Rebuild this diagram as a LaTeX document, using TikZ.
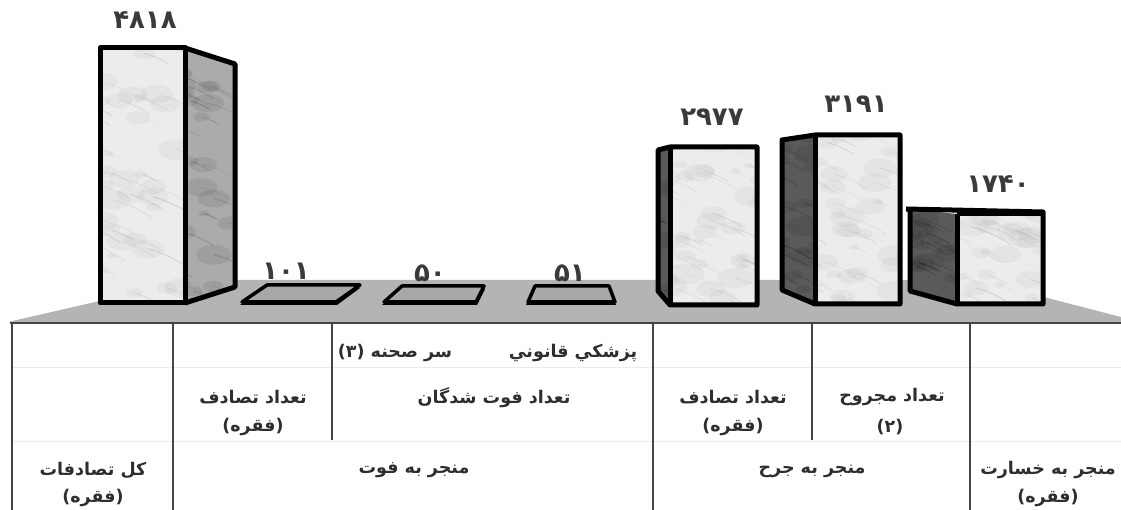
\documentclass[tikz,border=0pt]{standalone}
\usepackage{fontspec}
\TeXXeTstate=1
\newfontfamily\arabicfont[Script=Arabic]{DejaVu Sans}
\definecolor{floorgray}{HTML}{B4B4B4}
\definecolor{txt}{HTML}{2E2E2E}
\definecolor{numc}{HTML}{3A3A3A}
\definecolor{rulec}{HTML}{454545}
\definecolor{frontc}{HTML}{ECECEC}
\definecolor{sidelight}{HTML}{ABABAB}
\definecolor{sidedark}{HTML}{5A5A5A}
\definecolor{platec}{HTML}{A8A8A8}
\newcommand\veins[6]{%
  \foreach \k in {1,...,#6}{%
    \pgfmathsetmacro\xa{#1+rnd*(#3-#1)}%
    \pgfmathsetmacro\ya{#2+rnd*(#4-#2)}%
    \pgfmathsetmacro\ln{12+rnd*30}%
    \pgfmathsetmacro\lw{0.3+rnd*0.9}%
    \pgfmathsetmacro\op{0.06+rnd*0.18}%
    \draw[#5,line width=\lw pt,opacity=\op,line cap=round] (\xa,\ya) .. controls +(0.35*\ln,0.1*\ln) and +(-0.3*\ln,-0.2*\ln) .. +(\ln,0.45*\ln);
    \fill[#5,opacity=0.07] (\xa,\ya) ellipse ({0.45*\ln} and {0.25*\ln});
  }}
\begin{document}
\begin{tikzpicture}[x=1pt,y=-1pt,
  barline/.style={line width=5pt, line join=round},
  platestyle/.style={fill=platec, draw=black, line width=3.5pt, line join=round},
  lbl/.style={font=\arabicfont\bfseries\fontsize{17.5}{19}\selectfont, text=txt, inner sep=0pt},
  num/.style={font=\arabicfont\bfseries\fontsize{26}{28}\selectfont, text=numc, inner sep=0pt},
  tline/.style={rulec, line width=2.6pt},
  fline/.style={black!8, line width=0.8pt}]
\useasboundingbox (0,0) rectangle (1121,510);
\pgfmathsetseed{11}
% floor
\fill[floorgray] (8,322) -- (191,280) -- (978,280) -- (1121,317) -- (1121,322) -- cycle;

% table
\draw[fline] (12,367) -- (1121,367);
\draw[fline] (12,441) -- (1121,441);
\draw[tline] (10,323) -- (1121,323);
\draw[tline] (12,323) -- (12,510);
\draw[tline] (173,323) -- (173,510);
\draw[tline] (332,323) -- (332,440);
\draw[tline] (653,323) -- (653,510);
\draw[tline] (812,323) -- (812,440);
\draw[tline] (970,323) -- (970,510);

% big bar 4818
\fill[sidelight] (185,48) -- (235,64) -- (235,287) -- (185,303) -- cycle;
\begin{scope}\clip (185,48) -- (235,64) -- (235,287) -- (185,303) -- cycle;
  \veins{170}{40}{235}{300}{black}{25}\end{scope}
\fill[frontc] (100,48) rectangle (185,303);
\begin{scope}\clip (100,48) rectangle (185,303);
  \veins{80}{40}{185}{300}{gray}{40}\end{scope}
\draw[barline] (100,48) rectangle (185,303);
\draw[barline] (185,48) -- (235,64) -- (235,287) -- (185,303);

% plates
\fill[black] (240,305) -- (265,288) -- (360,288) -- (337,305) -- cycle;
\path[platestyle] (242,302) -- (267,285) -- (360,285) -- (336,302) -- cycle;
\fill[black] (382,305) -- (401,289) -- (485,289) -- (477,305) -- cycle;
\path[platestyle] (384,302) -- (402,286) -- (484,286) -- (476,302) -- cycle;
\fill[black] (526,305) -- (534,289) -- (610,289) -- (616,305) -- cycle;
\path[platestyle] (528,302) -- (535,286) -- (609,286) -- (615,302) -- cycle;

% bar 2977
\fill[sidedark] (658,150) -- (670,147) -- (670,305) -- (658,291) -- cycle;
\begin{scope}\clip (658,150) -- (670,147) -- (670,305) -- (658,291) -- cycle;
  \veins{640}{140}{672}{300}{black}{10}\end{scope}
\fill[frontc] (670,147) rectangle (757,305);
\begin{scope}\clip (670,147) rectangle (757,305);
  \veins{650}{140}{757}{300}{gray}{35}\end{scope}
\draw[barline] (658,150) -- (670,147) -- (757,147) -- (757,305) -- (670,305) -- (658,291) -- cycle;
\draw[barline] (670,147) -- (670,305);

% bar 3191
\fill[sidedark] (782,140) -- (815,135) -- (815,304) -- (782,290) -- cycle;
\begin{scope}\clip (782,140) -- (815,135) -- (815,304) -- (782,290) -- cycle;
  \veins{765}{130}{815}{300}{black}{20}\end{scope}
\fill[frontc] (815,135) rectangle (900,304);
\begin{scope}\clip (815,135) rectangle (900,304);
  \veins{795}{130}{900}{300}{gray}{35}\end{scope}
\draw[barline] (782,140) -- (815,135) -- (900,135) -- (900,304) -- (815,304) -- (782,290) -- cycle;
\draw[barline] (815,135) -- (815,304);

% bar 1740
\fill[sidedark] (910,209) -- (957,214) -- (957,304) -- (910,291) -- cycle;
\begin{scope}\clip (910,209) -- (957,214) -- (957,304) -- (910,291) -- cycle;
  \veins{895}{205}{957}{300}{black}{18}\end{scope}
\fill[frontc] (957,214) rectangle (1043,304);
\begin{scope}\clip (957,214) rectangle (1043,304);
  \veins{940}{205}{1043}{300}{gray}{25}\end{scope}
\draw[barline] (906,209) -- (1043,212) -- (1043,304) -- (957,304) -- (910,291) -- (910,209);
\draw[barline] (957,214) -- (957,304);
\draw[barline] (957,214) -- (1043,214);

% value labels
\node[num] (v4818) at (145,20) {۴۸۱۸};
\node[num] (v101) at (286,271) {۱۰۱};
\node[num] (v50) at (430,273) {۵۰};
\node[num] (v51) at (570,273) {۵۱};
\node[num] (v2977) at (712,117) {۲۹۷۷};
\node[num] (v3191) at (856,104) {۳۱۹۱};
\node[num] (v1740) at (998,184) {۱۷۴۰};

% table labels
\node[lbl] (c1a) at (93,470) {\beginR كل تصادفات\endR};
\node[lbl] (c1b) at (93,498) {(فقره)};
\node[lbl] (c2a) at (253,397) {\beginR تعداد تصادف\endR};
\node[lbl] (c2b) at (253,427) {(فقره)};
\node[lbl] (c3a) at (395,353) {(۳) \beginR سر صحنه\endR};
\node[lbl] (c3b) at (573,353) {\beginR پزشكي قانوني\endR};
\node[lbl] (c3c) at (494,398) {\beginR تعداد فوت شدگان\endR};
\node[lbl] (c4) at (414,470) {\beginR منجر به فوت\endR};
\node[lbl] (c5a) at (733,397) {\beginR تعداد تصادف\endR};
\node[lbl] (c5b) at (733,427) {(فقره)};
\node[lbl] (c6a) at (892,397) {\beginR تعداد مجروح\endR};
\node[lbl] (c6b) at (890,427) {(۲)};
\node[lbl] (c7) at (812,471) {\beginR منجر به جرح\endR};
\node[lbl] (c8a) at (1048,470) {\beginR منجر به خسارت\endR};
\node[lbl] (c8b) at (1048,498) {(فقره)};
\end{tikzpicture}
\end{document}
